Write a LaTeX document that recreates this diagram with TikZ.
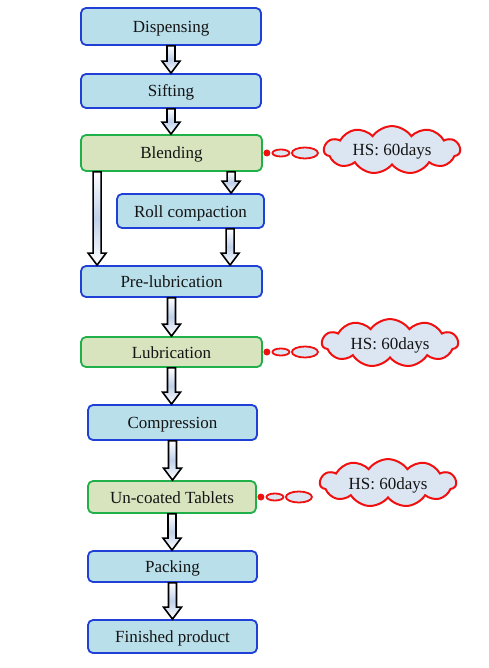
\documentclass[tikz,border=0pt]{standalone}
\usepackage{fontspec}
\setmainfont{Liberation Serif}
\usetikzlibrary{shapes.symbols,shapes.geometric,calc}
\definecolor{bluefill}{HTML}{B9DFEA}
\definecolor{blueline}{HTML}{1F3FD6}
\definecolor{greenfill}{HTML}{D8E4BE}
\definecolor{greenline}{HTML}{1FB04A}
\definecolor{cloudfill}{HTML}{DCE6F2}
\definecolor{cloudline}{HTML}{F01010}
\definecolor{arrowfill}{HTML}{BFD0EA}
\definecolor{txt}{HTML}{141414}
\tikzset{
  x=1pt, y=1pt,
  boxbase/.style={rectangle, rounded corners=5pt, line width=1.8pt, inner sep=0pt,
    font=\fontsize{17}{19}\selectfont, text=txt, text height=13pt, text depth=1pt},
  bluebox/.style={boxbase, draw=blueline, fill=bluefill},
  greenbox/.style={boxbase, draw=greenline, fill=greenfill},
  hscloud/.style={cloud, cloud puffs=11, cloud puff arc=110, aspect=3.4, draw=cloudline, fill=cloudfill,
    line width=2pt, minimum width=136pt, minimum height=34pt, inner sep=0pt,
    font=\fontsize{17}{19}\selectfont, text=txt, text height=13pt, text depth=1pt},
  bubble/.style={ellipse, draw=cloudline, fill=cloudfill, line width=1.8pt, inner sep=0pt},
  dotbubble/.style={circle, fill=cloudline, inner sep=0pt, minimum size=7pt},
  fatarrowsty/.style={draw=black, line width=1.6pt, line join=miter,
    left color=white, right color=white, middle color=arrowfill, shading angle=0},
}
\newcommand\fatarr[2]{%
  \path[fatarrowsty] let \p1=(#1), \p2=(#2) in
    (\x1-4pt,\y1) -- (\x1+4pt,\y1) -- (\x1+4pt,\y2+12pt) -- (\x1+9pt,\y2+12pt)
    -- (\x1,\y2) -- (\x1-9pt,\y2+12pt) -- (\x1-4pt,\y2+12pt) -- cycle;}
\begin{document}
\begin{tikzpicture}
\useasboundingbox (0,0) rectangle (488,-668);
\fill[white] (0,0) rectangle (488,-668);
% boxes
\node[bluebox, minimum width=180pt, minimum height=37pt] (disp) at (171,-26.5) {Dispensing};
\node[bluebox, minimum width=180pt, minimum height=34pt] (sift) at (171,-91) {Sifting};
\node[greenbox, minimum width=181pt, minimum height=36pt] (blend) at (171.5,-153) {Blending};
\node[bluebox, minimum width=147pt, minimum height=34pt] (roll) at (190.5,-211) {Roll compaction};
\node[bluebox, minimum width=181pt, minimum height=31pt] (prelub) at (171.5,-281.5) {Pre-lubrication};
\node[greenbox, minimum width=181pt, minimum height=30pt] (lub) at (171.5,-352) {Lubrication};
\node[bluebox, minimum width=169pt, minimum height=35pt] (comp) at (172.5,-422.5) {Compression};
\node[greenbox, minimum width=168pt, minimum height=32pt] (unc) at (172,-497) {Un-coated Tablets};
\node[bluebox, minimum width=169pt, minimum height=31pt] (pack) at (172.5,-566.5) {Packing};
\node[bluebox, minimum width=169pt, minimum height=33pt] (fin) at (172.5,-636.5) {Finished product};
% clouds
\node[hscloud] (c1) at (392,-150) {HS:\ 60days};
\node[hscloud] (c2) at (390,-343) {HS:\ 60days};
\node[hscloud] (c3) at (388,-483) {HS:\ 60days};
% bubbles
\foreach \b/\c in {blend/c1, lub/c2, unc/c3}{
  \node[dotbubble] (\b d) at ($(\b.east)+(4,0)$) {};
  \node[bubble, minimum width=17pt, minimum height=7pt] (\b e) at ($(\b.east)+(18,0)$) {};
  \node[bubble, minimum width=26pt, minimum height=11pt] (\b f) at ($(\b.east)+(42,0)$) {};
}
% helper coordinates
\coordinate (bl1) at ($(blend.south west)+(17,0)$);
\coordinate (pl1) at (bl1 |- prelub.north);
\coordinate (br1) at ($(blend.south west)+(151,0)$);
\coordinate (rl1) at (br1 |- roll.north);
\coordinate (rl2) at ($(roll.south west)+(114,0)$);
\coordinate (pl2) at (rl2 |- prelub.north);
% arrows
\fatarr{disp.south}{sift.north}
\fatarr{sift.south}{blend.north}
\fatarr{bl1}{pl1}
\fatarr{br1}{rl1}
\fatarr{rl2}{pl2}
\fatarr{prelub.south}{lub.north}
\fatarr{lub.south}{comp.north}
\fatarr{comp.south}{unc.north}
\fatarr{unc.south}{pack.north}
\fatarr{pack.south}{fin.north}
\end{tikzpicture}
\end{document}
